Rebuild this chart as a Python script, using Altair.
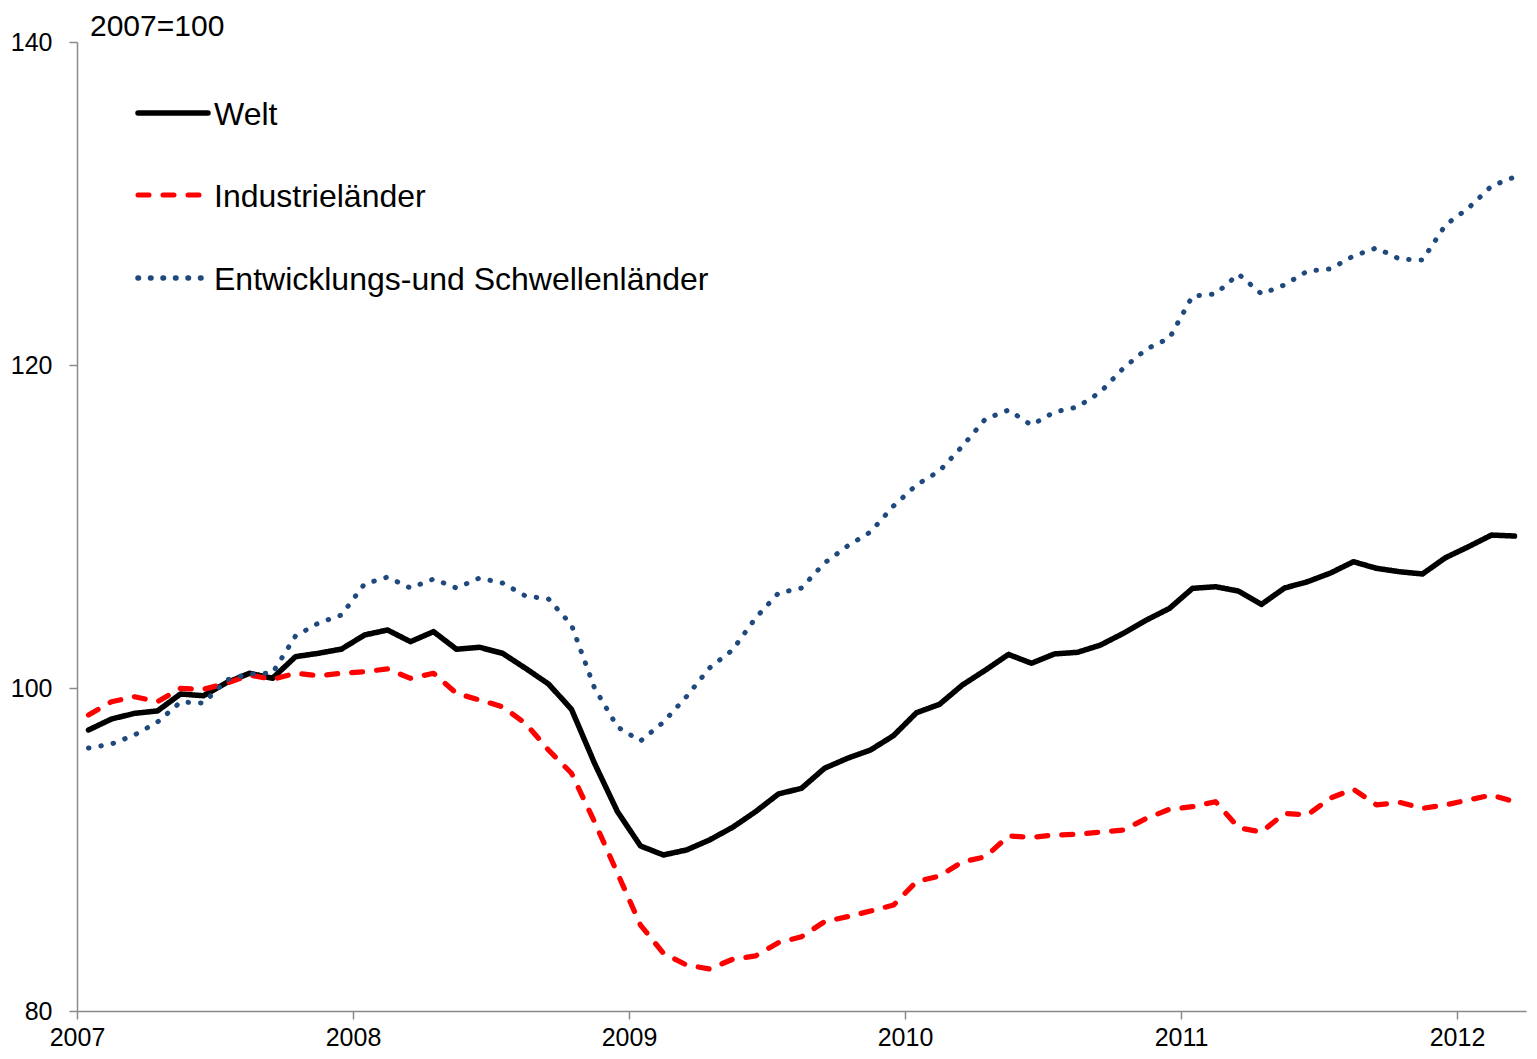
import altair as alt
import pandas as pd

# ---- data (monthly, Jan 2007 .. Mar 2012), index 2007=100 ----
series_names = ["Welt", "Industrieländer", "Entwicklungs-und Schwellenländer"]

welt = [97.40, 98.08, 98.43, 98.58, 99.63, 99.52, 100.33, 100.91, 100.60, 101.94, 102.15, 102.41,
        103.28, 103.59, 102.87, 103.49, 102.40, 102.52, 102.15, 101.22, 100.25, 98.68, 95.34, 92.34,
        90.22, 89.66, 89.97, 90.59, 91.37, 92.34, 93.44, 93.79, 95.03, 95.65, 96.16, 97.05,
        98.47, 98.99, 100.19, 101.11, 102.08, 101.53, 102.11, 102.21, 102.66, 103.39, 104.21, 104.93,
        106.17, 106.27, 106.00, 105.18, 106.19, 106.58, 107.12, 107.82, 107.41, 107.20, 107.06, 108.07,
        108.75, 109.47, 109.41]

industrie = [98.33, 99.15, 99.46, 99.15, 99.98, 99.92, 100.29, 100.80, 100.54, 100.91, 100.76, 100.91,
             101.01, 101.18, 100.60, 100.91, 99.67, 99.26, 98.84, 97.81, 96.16, 94.72, 91.72, 88.53,
             85.32, 83.57, 82.85, 82.60, 83.20, 83.41, 84.23, 84.60, 85.53, 85.84, 86.19, 86.56,
             88.01, 88.36, 89.24, 89.55, 90.84, 90.75, 90.90, 90.94, 91.08, 91.21, 91.93, 92.49,
             92.65, 92.96, 91.35, 91.08, 92.24, 92.14, 93.19, 93.73, 92.76, 92.92, 92.55, 92.76,
             93.07, 93.37, 92.96]

schwellen = [96.28, 96.53, 97.09, 97.89, 99.13, 99.07, 100.50, 100.87, 100.93, 103.22, 104.02, 104.52,
             106.44, 106.87, 106.19, 106.75, 106.19, 106.81, 106.50, 105.70, 105.51, 103.90, 100.00, 97.59,
             96.72, 97.89, 99.47, 101.24, 102.35, 104.33, 105.88, 106.19, 107.74, 108.79, 109.66, 111.27,
             112.57, 113.44, 114.98, 116.66, 117.21, 116.28, 117.09, 117.40, 118.33, 119.81, 120.99, 121.67,
             124.27, 124.40, 125.63, 124.40, 124.96, 125.82, 125.95, 126.75, 127.25, 126.56, 126.50, 128.67,
             129.72, 131.08, 131.64]

year_ticks = [2007, 2008, 2009, 2010, 2011, 2012]
value_ticks = [80, 100, 120, 140]
unit_label = "2007=100"

# ---- build long table ----
n = len(welt)
months = [2007 + (i + 0.5) / 12 for i in range(n)]
rows = []
for name, vals in zip(series_names, [welt, industrie, schwellen]):
    for t, v in zip(months, vals):
        rows.append({"t": t, "v": v, "series": name})
df = pd.DataFrame(rows)

colors = ["#000000", "#FF0000", "#1F497D"]
dashes = [[1, 0], [11, 14], [0.5, 12]]
widths = [5.5, 5, 6]
FONT = "Liberation Sans"

lines = alt.Chart(df).mark_line(strokeCap="round", strokeJoin="round").encode(
    x=alt.X("t:Q",
            scale=alt.Scale(domain=[2007, 2012.25], nice=False, zero=False),
            axis=alt.Axis(values=year_ticks, format="d", title=None, grid=False,
                          tickSize=8, labelPadding=6, labelFontSize=25, labelFlush=False,
                          labelOverlap=False)),
    y=alt.Y("v:Q",
            scale=alt.Scale(domain=[80, 140], nice=False, zero=False),
            axis=alt.Axis(values=value_ticks, title=None, grid=False,
                          tickSize=8, labelPadding=17, labelFontSize=25, labelFlush=False,
                          labelOverlap=False)),
    color=alt.Color("series:N", scale=alt.Scale(domain=series_names, range=colors), legend=None),
    strokeDash=alt.StrokeDash("series:N", scale=alt.Scale(domain=series_names, range=dashes), legend=None),
    strokeWidth=alt.StrokeWidth("series:N", scale=alt.Scale(domain=series_names, range=widths), legend=None),
    detail="series:N",
)

layers = [lines]

# legend drawn inside the plot (top-left)
legend_y = [71, 153, 236]
for k, name in enumerate(series_names):
    d = pd.DataFrame({"series": [name]})
    sym = alt.Chart(d).mark_rule(color=colors[k], strokeWidth=widths[k] if k != 2 else 5.5,
                                  strokeDash=dashes[k], strokeCap="round").encode(
        x=alt.value(61), x2=alt.value(131), y=alt.value(legend_y[k]))
    txt = alt.Chart(d).mark_text(align="left", baseline="alphabetic", font=FONT,
                                  fontSize=32, color="black").encode(
        x=alt.value(137), y=alt.value(legend_y[k] + 11.5), text="series:N")
    layers += [sym, txt]

title_df = pd.DataFrame({"label": [unit_label]})
title = alt.Chart(title_df).mark_text(align="left", baseline="alphabetic", font=FONT,
                                       fontSize=30, color="black").encode(
    x=alt.value(13), y=alt.value(-6), text="label:N")
layers.append(title)

chart = alt.layer(*layers).properties(
    width=1449, height=969,
    autosize=alt.AutoSizeParams(type="none"),
    padding={"left": 69, "top": 34, "right": 3, "bottom": 40},
).configure_view(stroke=None).configure_axis(
    domainColor="#8a8a8a", tickColor="#8a8a8a", domainWidth=1.5, tickWidth=1.5,
    labelColor="black", labelFont=FONT,
)

chart.save("out.html", embed_options={"renderer": "svg", "actions": False})
